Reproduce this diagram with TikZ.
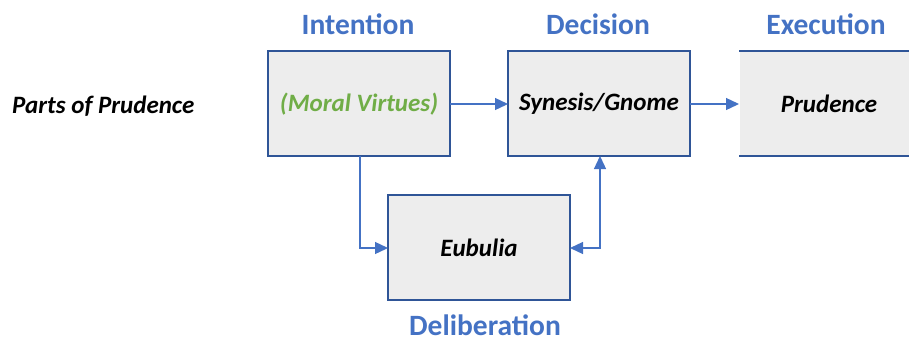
\documentclass[tikz,border=0pt]{standalone}
\usepackage{fontspec}
\setmainfont{Carlito}
\usetikzlibrary{arrows.meta}
\definecolor{boxline}{HTML}{2F5597}
\definecolor{boxfill}{HTML}{EDEDED}
\definecolor{lblue}{HTML}{4472C4}
\definecolor{vgreen}{HTML}{70AD47}
\tikzset{
  stagebox/.style={draw=boxline, line width=1.8pt, fill=boxfill},
  boxtext/.style={font=\fontsize{25}{30}\selectfont\bfseries\itshape},
  stagelabel/.style={font=\fontsize{29.5}{34}\selectfont\bfseries, text=lblue, inner sep=0pt, anchor=base},
  tip/.style={Triangle[length=13pt,width=12pt]},
  conn/.style={draw=lblue, line width=1.3pt, -{Triangle[length=13pt,width=12pt]}},
}
\begin{document}
\begin{tikzpicture}[x=1pt,y=-1pt]
\useasboundingbox (0,0) rectangle (909,341);
% boxes
\draw[stagebox] (268,51) rectangle (450,156);
\draw[stagebox] (508,51) rectangle (690,156);
\draw[stagebox] (739,51) -- (915,51) (915,156) -- (739,156) -- cycle;
\fill[boxfill] (740,52) rectangle (909,155);
\draw[stagebox] (388,195) rectangle (570,300);
% named anchors
\coordinate (intR) at (450,104);
\coordinate (intB) at (360,156);
\coordinate (synL) at (508,104);
\coordinate (synR) at (690,104);
\coordinate (synB) at (600,156);
\coordinate (pruL) at (739,104);
\coordinate (eubL) at (388,248);
\coordinate (eubR) at (570,248);
% texts
\node[boxtext, text=vgreen] (mv) at (359,104) {(Moral Virtues)};
\node[boxtext] (syn) at (599,104) {Synesis/Gnome};
\node[boxtext] (pru) at (829,104) {Prudence};
\node[boxtext] (eub) at (479,248) {Eubulia};
\node[boxtext, anchor=west, inner sep=0pt] (parts) at (12,106) {Parts of Prudence};
\node[stagelabel] (l1) at (358,34) {Intention};
\node[stagelabel] (l2) at (598,34) {Decision};
\node[stagelabel] (l3) at (826,34) {Execution};
\node[stagelabel] (l4) at (485,335) {Deliberation};
% connectors
\draw[conn] (intR) -- (synL);
\draw[conn] (synR) -- (pruL);
\draw[conn] (intB) |- (eubL);
\draw[conn, {Triangle[length=13pt,width=12pt]}-{Triangle[length=13pt,width=12pt]}] (eubR) -| (synB);
\end{tikzpicture}
\end{document}
